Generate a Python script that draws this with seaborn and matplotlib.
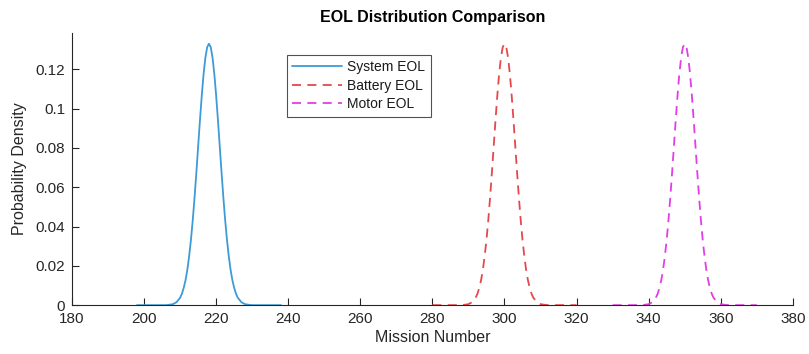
import numpy as np
import pandas as pd
import matplotlib
matplotlib.use("Agg")
import matplotlib.pyplot as plt
import seaborn as sns

# Mission-number grids (finer sampling around each peak)
system_x = np.r_[198:210, 210:226.5:0.5, 227:239]
battery_x = np.r_[280:292, 292:308.5:0.5, 309:321]
motor_x = np.r_[330:342, 342:358.5:0.5, 359:371]

# Probability densities at those mission numbers
system_y = [0.0000, 0.0000, 0.0000, 0.0000, 0.0000, 0.0000, 0.0000, 0.0000, 0.0000,
            0.0002, 0.0005, 0.0015,
            0.0038, 0.0058, 0.0088, 0.0127, 0.0180, 0.0249, 0.0332, 0.0432, 0.0547,
            0.0673, 0.0807, 0.0940, 0.1065, 0.1174, 0.1258, 0.1312, 0.1330, 0.1312,
            0.1258, 0.1174, 0.1065, 0.0940, 0.0807, 0.0673, 0.0547, 0.0432, 0.0332,
            0.0249, 0.0180, 0.0127, 0.0088, 0.0058, 0.0038,
            0.0015, 0.0005, 0.0002, 0.0000, 0.0000, 0.0000, 0.0000, 0.0000, 0.0000,
            0.0000, 0.0000, 0.0000]

battery_y = [0.0000, 0.0000, 0.0000, 0.0000, 0.0000, 0.0000, 0.0000, 0.0000, 0.0000,
             0.0002, 0.0005, 0.0015,
             0.0038, 0.0058, 0.0088, 0.0127, 0.0180, 0.0249, 0.0332, 0.0432, 0.0547,
             0.0673, 0.0807, 0.0940, 0.1065, 0.1174, 0.1258, 0.1312, 0.1330, 0.1312,
             0.1258, 0.1174, 0.1065, 0.0940, 0.0807, 0.0673, 0.0547, 0.0432, 0.0332,
             0.0249, 0.0180, 0.0127, 0.0088, 0.0058, 0.0038,
             0.0015, 0.0005, 0.0002, 0.0000, 0.0000, 0.0000, 0.0000, 0.0000, 0.0000,
             0.0000, 0.0000, 0.0000]

motor_y = [0.0000, 0.0000, 0.0000, 0.0000, 0.0000, 0.0000, 0.0000, 0.0000, 0.0000,
           0.0002, 0.0005, 0.0015,
           0.0038, 0.0058, 0.0088, 0.0127, 0.0180, 0.0249, 0.0332, 0.0432, 0.0547,
           0.0673, 0.0807, 0.0940, 0.1065, 0.1174, 0.1258, 0.1312, 0.1330, 0.1312,
           0.1258, 0.1174, 0.1065, 0.0940, 0.0807, 0.0673, 0.0547, 0.0432, 0.0332,
           0.0249, 0.0180, 0.0127, 0.0088, 0.0058, 0.0038,
           0.0015, 0.0005, 0.0002, 0.0000, 0.0000, 0.0000, 0.0000, 0.0000, 0.0000,
           0.0000, 0.0000, 0.0000]

series_names = ["System EOL", "Battery EOL", "Motor EOL"]
x_ticks = [180, 200, 220, 240, 260, 280, 300, 320, 340, 360, 380]
y_ticks = [0, 0.02, 0.04, 0.06, 0.08, 0.1, 0.12]
y_tick_labels = ["0", "0.02", "0.04", "0.06", "0.08", "0.1", "0.12"]

df = pd.concat([
    pd.DataFrame({"mission": system_x, "density": system_y, "series": series_names[0]}),
    pd.DataFrame({"mission": battery_x, "density": battery_y, "series": series_names[1]}),
    pd.DataFrame({"mission": motor_x, "density": motor_y, "series": series_names[2]}),
], ignore_index=True)

sns.set_style("ticks")
plt.rcParams["font.family"] = ["Liberation Sans", "DejaVu Sans"]
ink = "#262626"

fig = plt.figure(figsize=(8.09, 3.54), dpi=100)
ax = fig.add_axes([0.089, 0.138, 0.891, 0.769])

palette = {"System EOL": "#3d9bd6", "Battery EOL": "#e5484b", "Motor EOL": "#e03fe6"}
dashes = {"System EOL": "", "Battery EOL": (5, 3.5), "Motor EOL": (5, 3.5)}
sns.lineplot(data=df, x="mission", y="density", hue="series", style="series",
             hue_order=series_names, style_order=series_names,
             palette=palette, dashes=dashes, linewidth=1.3, ax=ax, sort=False)

ax.set_xlim(180, 380)
ax.set_ylim(0, 0.1385)
ax.set_xticks(x_ticks)
ax.set_yticks(y_ticks)
ax.set_yticklabels(y_tick_labels)
ax.tick_params(direction="in", length=5, width=0.8, colors=ink, labelsize=11, pad=5)
for side in ("left", "bottom"):
    ax.spines[side].set_color(ink)
    ax.spines[side].set_linewidth(0.8)
sns.despine(ax=ax)

ax.set_xlabel("Mission Number", fontsize=11.5, color=ink, labelpad=3)
ax.set_ylabel("Probability Density", fontsize=11.5, color=ink, labelpad=6)
ax.set_title("EOL Distribution Comparison", fontsize=11.5, fontweight="bold",
             color="black", pad=8)

leg = ax.legend(loc="upper left", bbox_to_anchor=(0.298, 0.92), borderaxespad=0,
                fontsize=10, frameon=True, fancybox=False, handlelength=3.6,
                handletextpad=0.35, labelspacing=0.32, borderpad=0.4)
leg.get_frame().set_edgecolor(ink)
leg.get_frame().set_linewidth(0.8)
for t in leg.get_texts():
    t.set_color("#1a1a1a")

fig.savefig("out.png", dpi=100)
